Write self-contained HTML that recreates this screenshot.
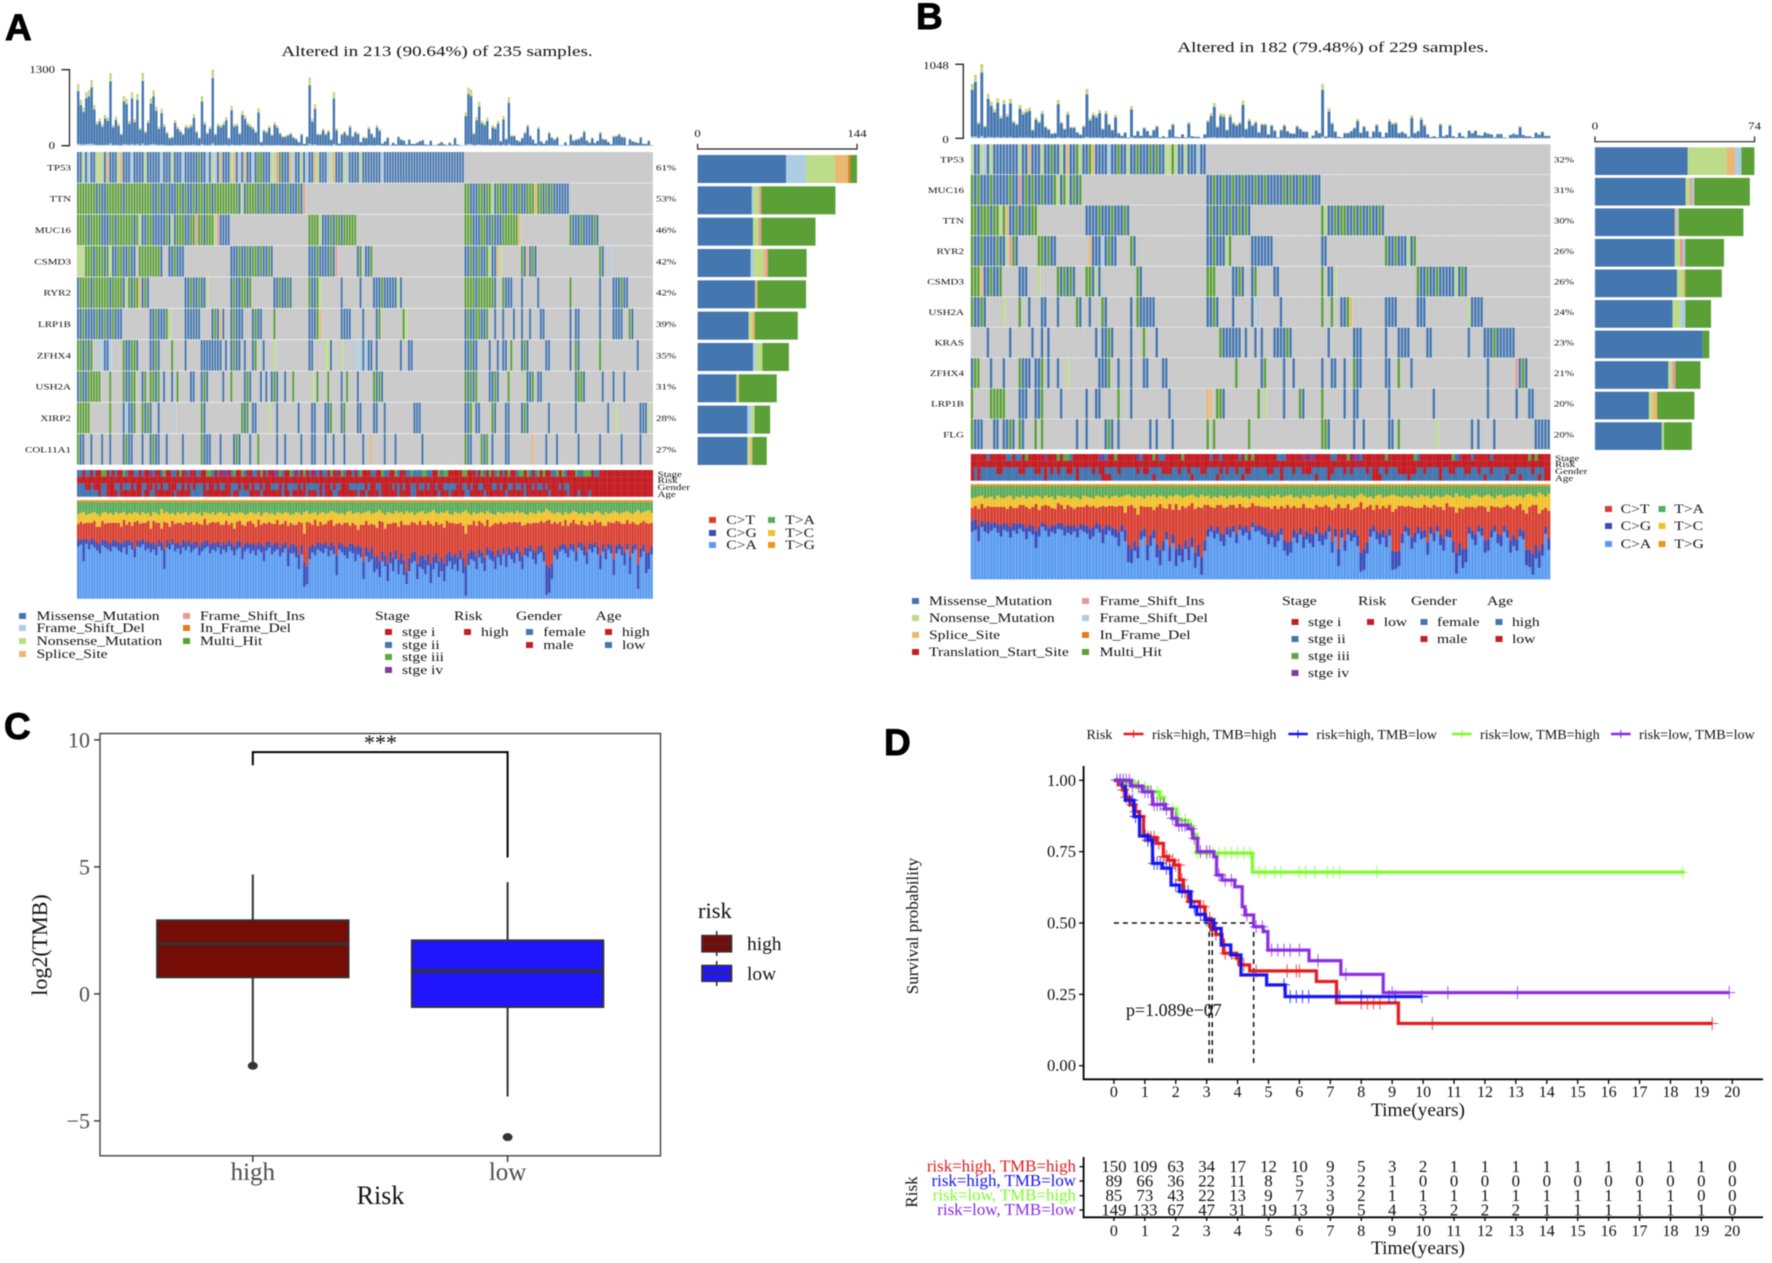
<!DOCTYPE html>
<html lang="en">
<head>
<meta charset="utf-8">
<title>Tumor mutation burden figure</title>
<style>
html,body{margin:0;padding:0;background:#fff;width:1772px;height:1263px;overflow:hidden}
svg{display:block;filter:blur(.4px)}
text{font-family:"Liberation Serif",serif;fill:#111}
.lg{font-size:12.2px}
.letter{font-family:"Liberation Sans",sans-serif;font-weight:700;font-size:37px;fill:#000;stroke:#000;stroke-width:.9px}
.ann{font-size:8.6px}
.dk{font-size:14.1px}
</style>
</head>
<body>
<svg id="figure" xmlns="http://www.w3.org/2000/svg" width="1772" height="1263" viewBox="0 0 1772 1263">
<rect width="1772" height="1263" fill="#fff"/>

<text class="letter" x="5" y="40">A</text>
<text class="letter" x="916" y="29">B</text>
<text class="letter" x="4" y="739">C</text>
<text class="letter" x="884" y="755">D</text>

<g id="panelA">
<text class="st" x="437" y="56" text-anchor="middle" font-size="14.9">Altered in 213 (90.64%) of 235 samples.</text>
<text class="st ann" x="657.5" y="477">Stage</text>
<text class="st ann" x="657.5" y="483">Risk</text>
<text class="st ann" x="657.5" y="490">Gender</text>
<text class="st ann" x="657.5" y="497">Age</text>
<g>
<g><rect x="19" y="613" width="7" height="6" fill="#4476b0"/><text class="st lg" x="36.5" y="620">Missense_Mutation</text></g>
<g><rect x="19" y="625" width="7" height="6" fill="#aecde3"/><text class="st lg" x="36.5" y="632">Frame_Shift_Del</text></g>
<g><rect x="19" y="638" width="7" height="6" fill="#bddc8a"/><text class="st lg" x="36.5" y="645">Nonsense_Mutation</text></g>
<g><rect x="19" y="651" width="7" height="6" fill="#e9b872"/><text class="st lg" x="36.5" y="658">Splice_Site</text></g>
<g><rect x="183" y="613" width="7" height="6" fill="#e89a97"/><text class="st lg" x="200" y="620">Frame_Shift_Ins</text></g>
<g><rect x="183" y="625" width="7" height="6" fill="#e07c1a"/><text class="st lg" x="200" y="632">In_Frame_Del</text></g>
<g><rect x="183" y="638" width="7" height="6" fill="#5b9f37"/><text class="st lg" x="200" y="645">Multi_Hit</text></g>
</g>
<g>
<text class="st lg" x="375" y="620">Stage</text>
<text class="st lg" x="454" y="620">Risk</text>
<text class="st lg" x="516" y="620">Gender</text>
<text class="st lg" x="595.5" y="620">Age</text>
<g><rect x="385" y="629" width="7" height="6" fill="#c41e24"/><text class="st lg" x="402" y="636">stge i</text></g>
<g><rect x="385" y="642" width="7" height="6" fill="#4476b0"/><text class="st lg" x="402" y="649">stge ii</text></g>
<g><rect x="385" y="654" width="7" height="6" fill="#5ba945"/><text class="st lg" x="402" y="661">stge iii</text></g>
<g><rect x="385" y="667" width="7" height="6" fill="#7d3f98"/><text class="st lg" x="402" y="674">stge iv</text></g>
<g><rect x="464" y="629" width="7" height="6" fill="#c41e24"/><text class="st lg" x="481" y="636">high</text></g>
<g><rect x="526" y="629" width="7" height="6" fill="#4476b0"/><text class="st lg" x="543.3" y="636">female</text></g>
<g><rect x="526" y="642" width="7" height="6" fill="#c41e24"/><text class="st lg" x="543.3" y="649">male</text></g>
<g><rect x="605" y="629" width="7" height="6" fill="#c41e24"/><text class="st lg" x="622" y="636">high</text></g>
<g><rect x="605" y="642" width="7" height="6" fill="#4476b0"/><text class="st lg" x="622" y="649">low</text></g>
</g>
<g>
<g><rect x="709" y="517" width="7" height="6" fill="#d83f31"/><text class="st lg" x="726.3" y="524">C&gt;T</text></g>
<g><rect x="709" y="530" width="7" height="6" fill="#3b4cb8"/><text class="st lg" x="726.3" y="537">C&gt;G</text></g>
<g><rect x="709" y="542" width="7" height="6" fill="#5a9bf0"/><text class="st lg" x="726.3" y="549">C&gt;A</text></g>
<g><rect x="768" y="517" width="7" height="6" fill="#5bab5b"/><text class="st lg" x="785.3" y="524">T&gt;A</text></g>
<g><rect x="768" y="530" width="7" height="6" fill="#efc22b"/><text class="st lg" x="785.3" y="537">T&gt;C</text></g>
<g><rect x="768" y="542" width="7" height="6" fill="#ec961a"/><text class="st lg" x="785.3" y="549">T&gt;G</text></g>
</g>
</g>

<g id="panelB">
<text class="st" x="1333" y="52" text-anchor="middle" font-size="14.9">Altered in 182 (79.48%) of 229 samples.</text>
<text class="st ann" x="1555" y="461">Stage</text>
<text class="st ann" x="1555" y="467">Risk</text>
<text class="st ann" x="1555" y="474">Gender</text>
<text class="st ann" x="1555" y="481">Age</text>
<g>
<g><rect x="912" y="598" width="7" height="6" fill="#4476b0"/><text class="st lg" x="929" y="605">Missense_Mutation</text></g>
<g><rect x="912" y="615" width="7" height="6" fill="#bddc8a"/><text class="st lg" x="929" y="622">Nonsense_Mutation</text></g>
<g><rect x="912" y="632" width="7" height="6" fill="#e9b872"/><text class="st lg" x="929" y="639">Splice_Site</text></g>
<g><rect x="912" y="649" width="7" height="6" fill="#c41e24"/><text class="st lg" x="929" y="656">Translation_Start_Site</text></g>
<g><rect x="1082" y="598" width="7" height="6" fill="#e89a97"/><text class="st lg" x="1099.6" y="605">Frame_Shift_Ins</text></g>
<g><rect x="1082" y="615" width="7" height="6" fill="#aecde3"/><text class="st lg" x="1099.6" y="622">Frame_Shift_Del</text></g>
<g><rect x="1082" y="632" width="7" height="6" fill="#e07c1a"/><text class="st lg" x="1099.6" y="639">In_Frame_Del</text></g>
<g><rect x="1082" y="649" width="7" height="6" fill="#5b9f37"/><text class="st lg" x="1099.6" y="656">Multi_Hit</text></g>
</g>
<g>
<text class="st lg" x="1282" y="605">Stage</text>
<text class="st lg" x="1358" y="605">Risk</text>
<text class="st lg" x="1411" y="605">Gender</text>
<text class="st lg" x="1487" y="605">Age</text>
<g><rect x="1291.5" y="619" width="7" height="6" fill="#c41e24"/><text class="st lg" x="1308" y="626">stge i</text></g>
<g><rect x="1291.5" y="636" width="7" height="6" fill="#4476b0"/><text class="st lg" x="1308" y="643">stge ii</text></g>
<g><rect x="1291.5" y="653" width="7" height="6" fill="#5ba945"/><text class="st lg" x="1308" y="660">stge iii</text></g>
<g><rect x="1291.5" y="670" width="7" height="6" fill="#7d3f98"/><text class="st lg" x="1308" y="677">stge iv</text></g>
<g><rect x="1367" y="619" width="7" height="6" fill="#c41e24"/><text class="st lg" x="1383.8" y="626">low</text></g>
<g><rect x="1420.5" y="619" width="7" height="6" fill="#4476b0"/><text class="st lg" x="1437" y="626">female</text></g>
<g><rect x="1420.5" y="636" width="7" height="6" fill="#c41e24"/><text class="st lg" x="1437" y="643">male</text></g>
<g><rect x="1495.5" y="619" width="7" height="6" fill="#4476b0"/><text class="st lg" x="1512" y="626">high</text></g>
<g><rect x="1495.5" y="636" width="7" height="6" fill="#c41e24"/><text class="st lg" x="1512" y="643">low</text></g>
</g>
<g>
<g><rect x="1605" y="506" width="7" height="6" fill="#d83f31"/><text class="st lg" x="1620.7" y="513">C&gt;T</text></g>
<g><rect x="1605" y="523" width="7" height="6" fill="#3b4cb8"/><text class="st lg" x="1620.7" y="530">C&gt;G</text></g>
<g><rect x="1605" y="541" width="7" height="6" fill="#5a9bf0"/><text class="st lg" x="1620.7" y="548">C&gt;A</text></g>
<g><rect x="1658.5" y="506" width="7" height="6" fill="#5bab5b"/><text class="st lg" x="1674.3" y="513">T&gt;A</text></g>
<g><rect x="1658.5" y="523" width="7" height="6" fill="#efc22b"/><text class="st lg" x="1674.3" y="530">T&gt;C</text></g>
<g><rect x="1658.5" y="541" width="7" height="6" fill="#ec961a"/><text class="st lg" x="1674.3" y="548">T&gt;G</text></g>
</g>
</g>

<g id="panelC">
<rect x="100" y="733.5" width="560.5" height="422.3" fill="#fff" stroke="#444" stroke-width="1.4"/>
<text transform="translate(47 945) rotate(-90)" text-anchor="middle" font-size="22">log2(TMB)</text>
<text x="380.5" y="1204" text-anchor="middle" font-size="26">Risk</text>
<text x="380.5" y="750" text-anchor="middle" font-size="22">***</text>
<text x="698" y="918" font-size="22.5">risk</text>
<g>
<line x1="716.7" x2="716.7" y1="931" y2="956" stroke="#333" stroke-width="1.6"/>
<rect x="702" y="935.6" width="29.5" height="16.2" fill="#750c06" stroke="#333" stroke-width="1.6"/>
<line x1="702" x2="731.5" y1="944" y2="944" stroke="#333" stroke-width="1.6"/>
<text x="747" y="950" font-size="19.4">high</text>
</g>
<g>
<line x1="716.7" x2="716.7" y1="961" y2="986" stroke="#333" stroke-width="1.6"/>
<rect x="702" y="965.5" width="29.5" height="15.8" fill="#2116fb" stroke="#333" stroke-width="1.6"/>
<line x1="702" x2="731.5" y1="973.5" y2="973.5" stroke="#333" stroke-width="1.6"/>
<text x="747" y="980" font-size="19.4">low</text>
</g>
</g>

<g id="panelD">
<text x="1086.5" y="739" font-size="14.1">Risk</text>
<g><line x1="1123.6" x2="1143.5" y1="734" y2="734" stroke="#e31a1c" stroke-width="2.6"/><line x1="1133.5" x2="1133.5" y1="730" y2="738" stroke="#e31a1c"/><text class="dk" x="1152" y="739">risk=high, TMB=high</text></g>
<g><line x1="1288.4" x2="1307.8" y1="734" y2="734" stroke="#1414f0" stroke-width="2.6"/><line x1="1298" x2="1298" y1="730" y2="738" stroke="#1414f0"/><text class="dk" x="1316.4" y="739">risk=high, TMB=low</text></g>
<g><line x1="1452" x2="1471.6" y1="734" y2="734" stroke="#7cfc2a" stroke-width="2.6"/><line x1="1461.8" x2="1461.8" y1="730" y2="738" stroke="#7cfc2a"/><text class="dk" x="1480" y="739">risk=low, TMB=high</text></g>
<g><line x1="1611" x2="1630.7" y1="734" y2="734" stroke="#8a2be2" stroke-width="2.6"/><line x1="1620.8" x2="1620.8" y1="730" y2="738" stroke="#8a2be2"/><text class="dk" x="1639" y="739">risk=low, TMB=low</text></g>
<text transform="translate(918 926) rotate(-90)" text-anchor="middle" font-size="17">Survival probability</text>
<text x="1418" y="1116" text-anchor="middle" font-size="19.4">Time(years)</text>
<text x="1126" y="1016" font-size="18">p=1.089e−07</text>
<text transform="translate(917 1192) rotate(-90)" text-anchor="middle" font-size="17">Risk</text>
<text x="1418" y="1254" text-anchor="middle" font-size="19.4">Time(years)</text>
</g>
</svg>

<script>
/* ===== Panel A data ===== */
const genesA=['TP53','TTN','MUC16','CSMD3','RYR2','LRP1B','ZFHX4','USH2A','XIRP2','COL11A1'];
const pctA=['61%','53%','46%','42%','42%','39%','35%','31%','28%','27%'];
const topTotalsA=[1049,781,650,912,946,1123,695,410,467,365,524,479,1237,353,496,382,211,849,798,422,912,450,884,308,1243,251,439,809,946,667,325,627,365,239,143,154,439,325,268,211,353,336,365,536,257,143,849,410,228,325,1300,211,382,353,399,490,137,678,365,382,222,593,513,399,365,325,251,638,68,279,251,342,194,399,342,228,165,171,194,222,154,125,68,211,34,165,1163,456,712,211,211,296,211,268,114,912,296,40,211,251,194,353,171,251,222,68,154,143,325,222,154,353,285,40,80,148,11,57,23,165,114,97,23,114,34,34,57,86,103,23,17,91,11,11,40,68,29,11,57,17,143,23,11,6,570,992,952,222,490,752,428,393,479,125,353,325,428,86,507,125,827,182,182,103,80,143,239,365,182,114,40,325,80,40,97,239,148,114,154,11,11,63,11,205,97,114,125,160,262,97,57,143,51,91,239,120,114,68,29,171,177,211,160,154,11,120,80,68,51,154,34,34,91,11];
const heatA=[
"@0 mmgmfmmggg msmmmgsmmm fmmmmgmmmm mfmmmgmmmf mmmmmhmmfm gfmsmmmgsm fmsmmfmhhm mmggihmmms fmmgmfmmsg mmmfgsmmmg fmmmmgmmmm mmmfmmmmmm mmmmmmmmmm mmmmmmmmmmmmmm",
"@0 hhhhhhhmhm mhhhhhhmhh hhhhhhhhmm hmmhmmmhhm hmmhmhhmhh mhhhhhhhhh mgmhhhhmhm hhmmhmmmhm mmhmi @144 hhmmmhhmhh gmhhmmhhmm hmmhhhshhm hmhmmmmmm",
"@0 hhhhmhhhhm mmhhmhhhhh hmhgmmhhmm mmmhmgmhhh mmhhihhmhh hgimmmm @86 hhhhgmmmhm hhmhhhhh @144 hhhmmmhhmmhmmmhhhhhhs @183 hmmmhmmmmhm",
"@0 ggghhhmhhh mhgmmhhmmh mm @23 hhhhhhhhm @34 mmhmmm @57 mmmhmmhmhhmhmmhm @86 mmmhmmmmhmi @104 mh @107 mmh @144 mmhmmhmmhgmmsg @165 hmsmhm @194 hm @198 f",
"@0 mhhhhmhhhh hhmhhhhmgh mhhsmhm @40 mmhmmhmmg @57 mhmmhhmh @73 mmhmmhm @86 hmmhg @98 m @105 m @110 mmmhmmm @117 mmgm @144 hhhhmhhhhhhm @158 hmmm @165 m @171 m @183 h @194 m @199 mmmhmm",
"@0 mmhmmmmhmm hmmhmmm @27 mmhmmmhg @40 mmmmmm @50 mhmsm @57 mhmmm @65 mhmm @73 h @86 mmmhs @98 mmmm @106 m @111 mh @121 hg @144 mhmmhhmmh @155 m @158 m @162 m @165 m @168 m @172 mm @183 m @185 mm @194 m @199 mmmm @205 hm",
"@0 hhmhmh @8 ffmmf @17 hmmhhm @27 mmhm @35 h @40 m @46 mmmmmmmm @55 m @57 mhmm @62 m @65 mh @69 m @73 g @86 mm @92 ggm @98 g @103 fff @106 mfmm @111 m @120 m @123 mm @144 mmhmm @153 m @156 m @158 mm @161 h @165 mhm @174 mm @183 m @185 hm @194 h @208 m",
"@0 mhmmhhhhh @12 h @17 hmmhh @24 mh @27 hhmh @32 m @35 m @37 h @42 mm @46 mhm @54 m @57 h @62 mhm @68 m @70 m @72 mhm @77 m @80 h @87 g @89 h @93 h @98 m @100 h @104 m @110 hmhm @144 hmhmh @153 mmhm @160 h @166 gm @168 mh @171 mm @185 mh @187 hm @195 m @199 m @203 m",
"@0 hhhhh @12 h @17 mfmmh @24 hmhm @30 m @36 f @46 hm @61 hmh @65 mm @71 g @74 m @82 m @87 mm @92 mmh @98 mh @104 mm @110 mm @114 m @125 mmm @144 mmh @148 mm @154 hm @159 mm @165 mhm @175 m @185 m @197 m @200 g @209 mmmg",
"@0 hmm @5 m @9 m @12 m @17 mhmm @24 m @27 mhmm @33 m @39 m @46 hmmm @53 m @58 mhm @64 m @67 h @74 m @77 m @83 m @87 mm @92 m @95 m @99 m @106 m @109 s @114 m @118 m @128 m @144 hmm @150 hmh @154 m @159 mm @169 s @174 m @178 m @186 m @194 m @202 m @209 m"
];
const rightClassesA=['m','f','g','s','i','d','h'];
const rightCountsA=[[80,18,26,12,0,2,6],[49,1.5,5,0,2,0,67],[50,0,5,0,2.5,0,49],[48,2.5,9,2,2,0,35],[52,0,0,2,0,0,44],[46,0,3,2.5,0,0,39],[50,2.5,6,0,0,0,24],[35,0,1.5,1,0,0,34],[45,3.5,3,0,0,0,14],[45,0,2.5,2,0,0,13]];
const stageA="bbrbbrbrrg grbrbrrgbr rbbrbrrpbr rbgrrbbrgr pbrrbbrrgg brbrpprbgr rgbrrbbrgr brrppgbrrg brbrgrbrpb rbbrgrprgb rrbrbgrrrb brrgbbrrgb rrbbgbbbgg bbrrgbggrr rrrggrrrbr gbrgrbgrbr grrbggrgbr bgrgrrbbgr gbrrrgbbgg grbb";
const riskA="r";
const genderA="bbbrrbrrrb brrrbbrbbb rbrrbbrrbr brbbrrrbbr brbrbbbrbr rbrbbrrbbb rbrrbrbbrb rrbbbrbrbb bbrbrbbbbb rbrrbrbbrr rbbbbbbrbr rbbrrrrbrb rbrrbbrbbr brrbrrbbbb brrbbrbrrb brrrbbrbrr bbrbbrbrrb rbbrbrrrrb rbbr";
const ageA="bbbbbbbbrb brrrrbrrrr rrrrbrrbbr rrrrrrbrrr rrbbbbbrrr rrrrrrrbrr bbbbrrrrbr rrrrrrbrrb rrrrrbrrrb rbrrrbbrrr rrrrbrrbrr rrbrrrrrrb rrrrbbrrrr rrrrbrrrbr rrrrbbrrrr rbrrrrrrrb rrrrrrbrrr rrrrrbrrrr rrbrrrbrrr brrr";
const spectrumCA_A=[53,55,38,56,50,55,52,49,46,54,52,50,48,53,52,49,47,52,45,54,50,42,53,52,55,49,51,47,50,44,53,49,30,52,50,55,48,51,45,52,49,53,47,50,52,44,48,51,53,46,50,48,52,45,50,47,53,49,44,50,52,40,48,51,46,49,44,50,47,38,49,52,45,48,50,43,47,51,33,46,46,42,30,45,12,15,40,47,44,50,48,46,51,43,49,45,24,50,47,44,41,48,46,38,45,42,20,43,37,40,27,30,22,38,33,18,36,28,40,25,35,24,15,28,36,38,20,32,30,25,34,16,30,36,22,28,18,33,38,30,35,28,40,26,3,34,40,38,30,42,36,28,44,40,38,30,42,34,45,32,44,40,36,46,38,30,44,42,48,40,35,45,47,38,4,6,20,44,40,48,50,46,42,50,48,38,52,49,44,35,50,47,52,45,30,48,40,50,46,24,46,50,44,34,50,25,46,50,10,42,48,26,30];
const spectrumCG_A=[6,5,22,5,8,6,7,8,9,6,7,7,8,6,7,8,9,6,14,5,7,9,6,6,5,8,7,9,7,10,6,8,20,7,6,5,8,6,9,7,8,6,8,7,6,9,8,7,6,9,7,8,6,9,7,8,6,7,9,8,6,12,8,6,9,7,10,7,8,15,8,6,9,8,7,9,8,6,18,9,9,11,15,9,25,18,12,8,9,7,8,9,6,10,8,9,20,7,8,9,11,8,9,14,9,10,18,9,11,12,15,14,16,10,11,18,12,14,9,15,11,15,12,13,11,10,16,12,14,15,11,20,13,10,16,14,18,12,10,13,11,14,9,15,30,12,9,10,13,8,11,14,8,9,10,13,8,11,7,13,8,9,11,7,10,13,8,9,6,9,12,8,7,10,30,25,16,8,9,6,6,8,9,6,7,10,5,7,9,12,6,8,5,8,14,7,10,6,8,16,8,6,9,13,6,18,8,6,25,9,7,20,17];
const spectrumTC_A=[10,9,12,8,9,10,9,13,11,8,12,9,10,8,11,9,14,8,10,9,12,10,8,9,11,9,8,13,9,10,8,20,9,11,13,8,9,11,9,12,10,8,9,13,8,11,9,7,12,9,10,8,9,13,11,8,9,11,16,8,9,12,11,8,9,11,13,8,9,10,12,8,11,9,8,12,10,9,13,8,11,13,9,8,22,11,9,12,8,11,9,13,10,8,9,14,11,9,12,8,11,15,9,12,18,11,12,9,14,10,12,16,11,9,14,12,11,9,12,14,9,11,14,12,10,8,12,9,14,11,8,12,16,9,11,12,15,10,9,8,12,11,9,14,24,12,10,9,12,8,11,12,9,14,11,8,12,9,10,12,9,11,8,12,9,14,11,8,12,10,9,12,8,11,12,9,11,8,12,9,11,8,12,10,9,12,11,8,10,14,9,11,8,12,9,11,14,8,10,12,9,8,11,12,9,11,8,12,15,10,9,12,14];
const spectrumTA_A=[12,11,10,13,12,11,10,12,14,11,10,12,11,13,10,12,11,10,13,11,12,10,11,13,10,12,11,14,10,11,13,7,11,10,12,11,13,10,12,11,10,13,11,10,12,11,14,10,11,12,10,13,11,10,12,11,14,10,11,12,10,11,13,12,10,11,12,10,14,11,10,12,11,13,10,11,12,10,11,13,12,10,11,13,10,9,12,11,10,13,11,10,12,11,9,10,11,12,11,13,10,9,12,11,10,12,11,10,9,12,11,10,8,11,13,10,11,12,9,11,10,12,9,11,10,13,11,10,9,12,11,10,8,11,12,10,11,9,12,13,10,11,12,10,8,11,13,10,12,11,10,12,9,11,12,13,10,11,12,10,11,10,12,9,11,10,12,13,10,11,12,9,11,10,7,9,11,12,10,11,13,10,12,11,9,10,12,11,13,10,11,12,10,9,11,13,10,12,11,9,10,12,11,10,9,11,12,10,8,11,10,9,8];
/* ===== Panel B data ===== */
const genesB=['TP53','MUC16','TTN','RYR2','CSMD3','USH2A','KRAS','ZFHX4','LRP1B','FLG'];
const pctB=['32%','31%','30%','26%','26%','24%','23%','21%','20%','20%'];
const topTotalsB=[769,897,231,1048,179,628,519,411,566,316,543,345,557,250,212,472,378,411,434,127,297,245,387,175,137,71,80,543,236,142,378,165,165,90,57,184,699,283,363,330,401,142,387,212,127,330,80,38,90,14,458,42,109,38,160,113,42,127,184,14,33,14,132,212,24,19,61,14,231,33,24,24,5,61,260,354,500,175,354,340,127,340,231,198,231,533,142,278,198,245,90,212,212,61,198,118,14,127,198,109,76,71,184,142,104,99,5,42,118,80,769,28,425,227,104,24,14,80,80,109,156,274,85,179,109,19,104,203,99,19,85,269,222,231,80,99,71,24,326,80,109,297,198,61,19,33,14,212,33,52,198,33,14,85,33,14,118,80,118,47,42,90,71,61,19,66,66,14,5,52,71,57,175,52,33,33,14,85,57,99,38,38];
const heatB=[
"@0 gmmgfmgmmm mmmmmgmmsm mmgmmhmmgm smmhgmmhsm mmmfmmhmmg mmhmmmhmhm mgghgmmgmm mfmm",
"@0 hmhmmmhmmm mmhmmimhmh mmhmmmhgmh gmhmh @74 mmhmmhmmhm mhmmmhmmhm mmmmhmhmmh mmhmmm",
"@0 hhmhhhmhhg hsmmhmmhmh h @36 mmmmhmmmhmmmhm @74 mhmmhmmhmmhmhm @110 hgmmhmhhmmhmhmmhmmhm",
"@0 hmmhmmmmhmmgihm @21 hhmhmm @37 smmmfmhmm @50 hm @74 mmhmmmgh @88 mmmmmmm @110 mm @130 hmmhmmmgmh",
"@0 hhhsmmhmmh @15 mmm @21 g @27 hmhmhm @36 hhmgm @52 hm @74 hhh @82 mmhm @88 mh @95 mm @110 h @112 mmg @140 hmmhmmhmmmmmgmhm",
"@0 hmmhm @10 g @15 h @18 m @22 mm @27 m @33 hm @37 m @41 hm @50 m @52 hm @54 mmmm @74 mmhm @82 m @88 m @90 f @97 m @110 h @113 h @116 mmhs @130 mmmm @140 mmm @156 gmmmm",
"@5 m @12 m @19 m @22 m @24 m @39 m @41 mmhm @50 m @54 h @58 m @78 hmmmmmm @86 m @89 m @91 m @95 mmmmhm @112 m @120 mmm @130 m @134 mmmm @143 mm @156 m @161 mmmhmmmmmm",
"@0 mhh @6 m @10 m @15 hm @17 mm @20 mmh @24 m @27 m @30 g @40 mmmh @46 m @50 m @54 mm @60 mm @83 h @91 mh @98 m @101 m @110 m @113 mm @117 m @120 hmm @130 mm @134 h @138 m @162 m @171 imhm",
"@0 h @6 hhhhh @15 mmm @20 mmh @28 m @36 m @39 mm @46 h @50 m @62 m @74 ss @77 hhm @90 h @92 g @98 m @103 hm @110 h @117 m @120 mm @131 m @145 m @162 m @171 m @175 mm",
"@0 hmmm @7 mm @10 mmhm @15 hm @20 h @22 h @33 m @36 m @42 mhm @46 m @56 m @58 m @63 m @74 h @76 h @87 h @110 hhm @120 m @123 m @131 mm @134 h @146 g @157 m @159 m @164 m @177 mmmmm"
];
const rightClassesB=['m','g','s','i','f','h'];
const rightCountsB=[[43,18,3.9,0,3,6],[42,2,0,1,1,25.8],[37,0,.8,0,1,30],[37,2.3,0,1.5,1,18],[38,2.8,1,0,0,17],[36,3.6,0,0,2.3,11.9],[50,0,0,0,0,3],[34,1.8,0,1.5,0,11.6],[25,1.5,2.3,0,0,17.3],[31,1,0,0,0,12.9]];
const stageB="rrrrrbrrrr rbbrbbrgrr rrrprrrgrg gbrrrrrrrr ppbrrgrrrr rrpbrrrgrb brrrrrgrrr rrrrrbrrbr rrrrbrgrgr rrrrrrbbbr rrrrprpprr rrrbbrrrgr ppbrrrrrrr grrrrrrrrg brrrrrrrrr rgbprrrbrr rrrbrrrrrr rrrrrgrg";
const riskB="r";
const genderB="rbrbbbbbrr bbbbbrrbbb rrbrbrbrbb rrbrbbbbrb rrbbbbrbbb bbrbrrbbbb rrrbbrbbrb bbrrbbbbrb rbbrbbrrbb bbbrrbbrbb brbbrrrbbb bbrrbbbrbr bbbbrbrrbb rbbbrrrrrr bbrbbbbrbb rrbbbrrbbr bbbrbbbbbr rbbbbbrbbb";
const ageB="rbrbbbbbbb bbbbbbbbbb bbbrbbbbbb bbbrbbbbbb brrrbbbbbb bbbbbbbrbb bbbbbbbbbr bbbbbbbrbb bbbbbrbbbb bbbbbbbrbb bbbbbbbbrb bbrbbbbbbb bbbbbbrrrb bbbbbbbrbb bbbbbbbrbb bbbbbbbbbb brbbbbbbrb bbrbbbbbrb";
const spectrumCA_B=[50,52,40,55,50,48,51,54,49,45,52,50,44,51,48,53,50,42,50,47,33,45,55,51,45,50,48,53,52,46,49,47,50,44,52,50,48,42,45,53,49,38,47,51,46,44,35,50,40,18,17,30,22,42,45,20,35,43,23,15,30,42,19,38,14,25,18,32,20,34,12,24,5,30,45,50,43,48,40,35,47,44,50,38,52,46,49,41,55,50,51,47,45,37,44,34,40,47,30,25,28,44,38,47,33,42,38,34,48,40,36,42,50,28,45,14,44,30,47,40,44,35,8,10,27,45,50,42,37,44,34,46,10,11,14,38,50,46,32,39,48,42,44,26,48,40,50,36,30,45,44,28,6,25,12,18,48,42,36,50,46,28,30,44,50,38,35,50,44,28,35,30,45,42,15,13,5,22,12,25,48,31];
const spectrumCG_B=[12,11,16,6,8,13,7,6,9,12,7,8,11,8,10,6,8,12,7,9,18,10,5,7,9,7,8,6,7,9,8,9,7,10,6,7,8,11,10,6,8,15,9,6,8,9,15,7,12,18,15,10,12,9,8,16,11,9,14,16,10,8,15,9,18,12,14,9,14,10,16,12,18,11,8,6,9,7,9,12,8,9,6,10,5,8,7,10,5,6,6,8,9,12,8,12,10,7,11,14,12,8,10,7,12,9,10,13,7,9,11,9,6,12,8,18,9,11,7,9,8,11,20,22,12,8,6,9,11,8,12,7,20,18,16,10,6,8,12,10,7,9,8,13,7,9,6,11,13,8,8,12,22,13,20,14,7,9,11,6,8,13,12,8,6,10,11,6,8,13,11,12,8,9,16,18,22,14,18,12,7,12];
const spectrumTC_B=[10,9,13,9,10,9,11,8,12,10,9,13,11,9,12,8,10,9,13,10,9,14,8,10,9,12,10,8,9,12,10,9,13,10,8,12,9,10,8,13,11,9,12,8,10,12,9,10,18,12,9,11,20,10,9,12,11,16,10,9,12,11,9,14,10,15,9,12,11,9,13,10,14,9,10,9,12,8,10,12,9,10,8,12,9,10,12,9,8,10,9,12,11,9,14,10,15,9,12,10,14,9,12,10,9,12,11,15,9,12,10,9,12,16,10,9,12,11,9,14,10,12,9,14,10,9,12,10,15,9,12,10,18,14,10,9,12,10,9,13,11,14,9,12,10,9,12,10,14,9,12,10,20,12,14,10,9,12,14,10,9,12,18,10,9,12,14,10,9,12,15,10,9,13,20,14,10,9,22,16,12,18];
const spectrumTA_B=[13,12,11,10,13,12,11,14,10,12,13,11,10,14,11,12,10,13,11,12,10,11,13,10,12,11,14,10,11,12,10,13,11,12,14,10,11,12,13,10,11,12,10,13,11,10,12,11,10,9,11,12,10,11,13,10,11,9,12,10,11,13,10,11,9,10,12,11,10,9,11,12,9,11,10,13,11,12,10,11,13,10,12,11,10,12,11,13,10,11,12,10,11,13,10,11,9,12,11,10,9,12,11,13,10,11,12,9,11,10,12,11,10,9,13,10,11,12,10,11,13,10,8,10,12,11,13,10,9,12,11,10,9,10,11,12,10,11,13,10,12,9,11,10,13,11,10,12,11,9,10,12,8,11,10,12,13,10,9,11,12,10,9,11,13,10,9,12,11,10,9,11,10,12,9,8,10,11,7,9,11,8];
/* ===== Panel C data ===== */
const boxCategories=['high','low'];
const boxQ1=[0.65,-0.52];
const boxMedian=[1.97,0.9];
const boxQ3=[2.9,2.11];
const whiskerHigh=[4.7,4.4];
const whiskerLow=[-2.75,-4.04];
const boxOutliers=[-2.83,-5.64];
const boxTicks=[10,5,0,-5];
const bracketValues=[9.0,9.52,5.37];
/* ===== Panel D data ===== */
const kmTicks=[0,1,2,3,4,5,6,7,8,9,10,11,12,13,14,15,16,17,18,19,20];
const survivalTicks=[1,0.75,0.5,0.25,0];
const redTimes=[0,.15,.28,.4,.52,.7,.83,.96,1.1,1.38,1.6,1.75,1.94,2.12,2.25,2.4,2.77,2.95,3.14,3.3,3.5,3.54,3.97,4.06,4.39,6.55,7.2,9.2];
const redSurv=[1,.985,.966,.94,.914,.89,.873,.808,.80,.779,.733,.72,.703,.651,.61,.575,.557,.516,.475,.46,.44,.394,.376,.353,.332,.295,.22,.148];
const redEnd=19.35;
const blueTimes=[0,.28,.37,.65,.83,1.1,1.25,1.57,1.85,2.12,2.49,2.68,2.95,3.23,3.47,3.78,4.11,4.94,5.54];
const blueSurv=[1,.98,.93,.873,.805,.79,.709,.692,.633,.61,.557,.53,.51,.481,.423,.388,.318,.283,.242];
const blueEnd=9.96;
const greenTimes=[0,.37,.74,1.1,1.48,1.62,2.03,2.4,2.55,2.68,4.48];
const greenSurv=[1,.99,.975,.96,.94,.90,.86,.84,.81,.745,.678];
const greenEnd=18.45;
const purpleTimes=[0,.55,.92,1.25,1.66,1.88,2.03,2.4,2.55,2.71,3.23,3.32,3.5,3.91,4.15,4.24,4.52,4.83,4.98,6.31,7.34,8.71];
const purpleSurv=[1,.98,.96,.915,.90,.867,.843,.83,.797,.75,.732,.668,.65,.627,.557,.528,.487,.47,.405,.368,.32,.256];
const purpleEnd=19.9;
const redCensor=[.3,.4,.6,.7,.85,1,1.1,1.2,1.3,1.45,1.6,1.7,1.8,1.9,2,2.1,2.2,2.3,2.5,2.8,2.9,3.1,3.3,3.6,3.8,4,4.2,4.6,5.6,5.9,6,8,8.2,8.4,8.6,10.3,19.35];
const blueCensor=[.2,.5,.6,.7,.8,1,1.1,1.2,1.3,1.4,1.5,1.7,1.8,2,2.2,2.4,2.6,2.8,3,3.3,5.5,5.7,5.9,6.1,6.3,7.3,8,8.9,9.1,9.96];
const greenCensor=[.1,.2,.3,.5,.6,.8,1,1.2,1.4,1.5,1.7,1.9,2.1,2.3,2.5,2.7,3,3.2,3.4,3.6,3.8,4,4.2,4.4,4.7,4.9,5.2,5.4,6,6.2,6.5,6.9,7.1,7.3,8.5,18.4];
const purpleCensor=[.1,.2,.3,.4,.5,.6,.8,1,1.1,1.2,1.3,1.4,1.5,1.6,1.7,1.9,2,2.1,2.2,2.3,2.5,2.6,2.8,3,3.1,3.4,3.6,3.8,4.3,4.6,4.8,5.1,5.3,5.5,5.7,6,6.6,7.5,9,10.8,13.05,19.9];
const medianTimes=[3.08,3.18,4.52];
const riskRowLabels=['risk=high, TMB=high','risk=high, TMB=low','risk=low, TMB=high','risk=low, TMB=low'];
const atRiskRedHigh=[150,109,63,34,17,12,10,9,5,3,2,1,1,1,1,1,1,1,1,1,0];
const atRiskBlueLow=[89,66,36,22,11,8,5,3,2,1,0,0,0,0,0,0,0,0,0,0,0];
const atRiskGreenHigh=[85,73,43,22,13,9,7,3,2,1,1,1,1,1,1,1,1,1,1,0,0];
const atRiskPurpleLow=[149,133,67,47,31,19,13,9,5,4,3,2,2,2,1,1,1,1,1,1,0];

const NS='http://www.w3.org/2000/svg';
const cellColors={m:'#4476b0',h:'#5b9f37',g:'#bddc8a',s:'#e9b872',f:'#aecde3',i:'#e89a97',d:'#e07c1a',t:'#c41e24','.':'#c9c9c9'};
const annColors={r:'#c41e24',b:'#4476b0',g:'#5ba945',p:'#7d3f98'};
const specColors=['#5a9bf0','#3b4cb8','#d83f31','#efc22b','#5bab5b','#ec961a'];
const specNames=['c-a','c-g','c-t','t-c','t-a','t-g'];
const topShares=[['f',.03],['m',.86],['g',.08],['s',.03]];
function svgEl(parent,tag,attrs,txt){
  const el=document.createElementNS(NS,tag);
  for(const k in attrs)el.setAttribute(k,attrs[k]);
  if(txt!==undefined)el.textContent=txt;
  parent.appendChild(el);
  return el;
}
function decode(str,n,fill){
  const out=new Array(n).fill(fill);let pos=0;
  const re=/@(\d+)|([a-z.])/g;let m;
  while((m=re.exec(str))){
    if(m[1]!==undefined)pos=+m[1];
    else{if(pos<n)out[pos]=m[2];pos++;}
  }
  return out;
}

function drawOnco(root,c){
  const N=c.tops.length,band=(c.x1-c.x0)/N;
  const xS=i=>c.x0+i*band;
  const yTop=v=>c.topBase-(v/c.topMax)*(c.topBase-c.topY);
  /* top bars */
  const gTop=svgEl(root,'g',{});
  
  
  c.tops.forEach((v,i)=>{
    let acc=0;
    topShares.forEach(([code,share])=>{
      const y0=yTop(acc),y1=yTop(acc+v*share);
      const el=svgEl(gTop,'rect',{x:xS(i),y:y1,width:band-.3,height:Math.max(0,y0-y1),fill:cellColors[code]});
      
      
      acc+=v*share;
    });
  });
  /* top axis */
  const axT=svgEl(root,'path',{d:`M${c.x0-7.5-8} ${c.topY}H${c.x0-7.5}V${c.topBase}H${c.x0-7.5-8}`,fill:'none',stroke:'#222','stroke-width':1.3});
  
  
  [[c.topMax,c.topY],[0,c.topBase]].forEach(([lab,y])=>{
    const t=svgEl(root,'text',{class:'st',x:c.x0-c.topLabelGap,y:y+3.5+c.topLabelDy,'text-anchor':'end','font-size':10},String(lab));
    
    
  });
  /* heat rows */
  const gHeat=svgEl(root,'g',{});
  
  
  c.genes.forEach((gene,r)=>{
    const y=c.rowY+r*c.pitch;
    const rowBg=svgEl(gHeat,'rect',{x:c.x0,y:y,width:c.x1-c.x0,height:c.rowH,fill:'#dedede'});
    
    
    const codes=decode(c.heat[r],N,'.');
    codes.forEach((code,i)=>{
      const el=svgEl(gHeat,'rect',{x:xS(i),y:y,width:code==='.'?band-.28:band-.75,height:c.rowH,fill:cellColors[code]});
      
      
    });
    const lab=svgEl(root,'text',{class:'st',x:c.labelX,y:y+c.rowH/2+3,'text-anchor':'end','font-size':8.6},gene);
    
    
    const pc=svgEl(root,'text',{class:'st',x:c.pctX,y:y+c.rowH/2+3,'font-size':8.6},c.pct[r]);
    
    
    /* right bars */
    let acc=0;
    const xR=v=>c.rx0+(v/c.rMax)*(c.rx1-c.rx0);
    c.rightCounts[r].forEach((cnt,k)=>{
      if(cnt<=0)return;
      const el=svgEl(root,'rect',{x:xR(acc),y:c.ry0+r*c.pitch,width:xR(acc+cnt)-xR(acc),height:c.rh,fill:cellColors[c.rightClasses[k]]});
      
      
      acc+=cnt;
    });
  });
  /* right axis */
  const axR=svgEl(root,'path',{d:`M${c.rx0} ${c.ra-5.3}V${c.ra}H${c.rx1}V${c.ra-5.3}`,fill:'none',stroke:'#222','stroke-width':1.2});
  
  
  [[0,c.rx0],[c.rMax,c.rx1]].forEach(([lab,x])=>{
    const t=svgEl(root,'text',{class:'st',x:x,y:c.ra-12,'text-anchor':'middle','font-size':10},String(lab));
    
    
  });
  /* annotation tracks */
  const tracks=[c.stage,c.risk,c.gender,c.age];
  const gAnn=svgEl(root,'g',{});
  
  
  const th=(c.annBottom-c.annTop)/4;
  tracks.forEach((tr,t)=>{
    const chars=tr.replace(/\s/g,'');
    for(let i=0;i<N;i++){
      const ch=chars[i]||'r';
      const el=svgEl(gAnn,'rect',{x:xS(i),y:c.annTop+t*th,width:band+.05,height:th+.05,fill:annColors[ch]});
      
      
    }
  });
  /* spectrum stack */
  const gSpec=svgEl(root,'g',{});
  
  
  const yS=p=>c.specBottom-(p/100)*(c.specBottom-c.specTop);
  for(let i=0;i<N;i++){
    const ca=c.ca[i]||45,cg=c.cg[i]||8,tc=c.tc[i]||10,ta=c.ta[i]||11,tg=2;
    const ct=Math.max(0,100-ca-cg-tc-ta-tg);
    let acc=0;
    [ca,cg,ct,tc,ta,tg].forEach((v,k)=>{
      const el=svgEl(gSpec,'rect',{x:xS(i),y:yS(acc+v),width:band-.2,height:yS(acc)-yS(acc+v)+.1,fill:specColors[k]});
      
      
      acc+=v;
    });
  }
}
drawOnco(document.getElementById('panelA'),{
  genes:genesA,pct:pctA,tops:topTotalsA,heat:heatA,rightClasses:rightClassesA,rightCounts:rightCountsA,
  stage:stageA,risk:riskA,gender:genderA,age:ageA,ca:spectrumCA_A,cg:spectrumCG_A,tc:spectrumTC_A,ta:spectrumTA_A,
  x0:77,x1:653,topBase:145.7,topY:69.7,topMax:1300,topLabelGap:22,topLabelDy:0,
  rowY:152,pitch:31.33,rowH:30.7,labelX:71,pctX:656,
  rx0:697.6,rx1:857,rMax:144,ry0:155,rh:28,ra:149,
  annTop:470,annBottom:496.7,specTop:500,specBottom:598.7
});
drawOnco(document.getElementById('panelB'),{
  genes:genesB,pct:pctB,tops:topTotalsB,heat:heatB,rightClasses:rightClassesB,rightCounts:rightCountsB,
  stage:stageB,risk:riskB,gender:genderB,age:ageB,ca:spectrumCA_B,cg:spectrumCG_B,tc:spectrumTC_B,ta:spectrumTA_B,
  x0:970.8,x1:1550.5,topBase:138.3,topY:64.3,topMax:1048,topLabelGap:22,topLabelDy:1,
  rowY:144.3,pitch:30.55,rowH:30,labelX:964,pctX:1553.9,
  rx0:1595,rx1:1754.6,rMax:74,ry0:147.3,rh:27.7,ra:141.7,
  annTop:454,annBottom:480.7,specTop:484,specBottom:579.3
});

/* ===== Panel C ===== */
(function(){
  const root=document.getElementById('panelC');
  const yC=v=>993.9-v*25.4;
  const xC=i=>252.8+i*254.8;
  const boxHalf=95.8;
  const fills=['#750c06','#2116fb'];
  boxTicks.forEach(t=>{
    const tk=svgEl(root,'line',{x1:94,x2:100,y1:yC(t),y2:yC(t),stroke:'#333','stroke-width':1.4});
    
    
    const lb=svgEl(root,'text',{x:90,y:yC(t)+7.5,'text-anchor':'end','font-size':22,style:'fill:#4d4d4d'},t<0?'\u2212'+(-t):String(t));
    
    
  });
  boxCategories.forEach((cat,i)=>{
    const x=xC(i);
    const tk=svgEl(root,'line',{x1:x,x2:x,y1:1155.8,y2:1162,stroke:'#333','stroke-width':1.4});
    
    
    const lb=svgEl(root,'text',{x:x,y:1180,'text-anchor':'middle','font-size':25,style:'fill:#4d4d4d'},cat);
    
    
    const wk=svgEl(root,'line',{x1:x,x2:x,y1:yC(whiskerHigh[i]),y2:yC(whiskerLow[i]),stroke:'#333','stroke-width':2});
    
    
    const bx=svgEl(root,'rect',{x:x-boxHalf,y:yC(boxQ3[i]),width:boxHalf*2,height:yC(boxQ1[i])-yC(boxQ3[i]),fill:fills[i],stroke:'#333','stroke-width':1.8});
    
    
    const md=svgEl(root,'line',{x1:x-boxHalf,x2:x+boxHalf,y1:yC(boxMedian[i]),y2:yC(boxMedian[i]),stroke:'#333','stroke-width':3.4});
    
    
    const ot=svgEl(root,'ellipse',{cx:x,cy:yC(boxOutliers[i]),rx:5,ry:4,fill:'#333'});
    
    
  });
  const br=svgEl(root,'path',{d:`M${xC(0)} ${yC(bracketValues[0])}V${yC(bracketValues[1])}H${xC(1)}V${yC(bracketValues[2])}`,fill:'none',stroke:'#000','stroke-width':2});
  
  
})();

/* ===== Panel D ===== */
(function(){
  const root=document.getElementById('panelD');
  const xT=t=>1113.9+t*30.92;
  const yS=s=>1065.7-s*285.4;
  const series=[
    {name:'high-high',color:'#e31a1c',t:redTimes,s:redSurv,end:redEnd,c:redCensor,n:atRiskRedHigh},
    {name:'high-low',color:'#1414f0',t:blueTimes,s:blueSurv,end:blueEnd,c:blueCensor,n:atRiskBlueLow},
    {name:'low-high',color:'#7cfc2a',t:greenTimes,s:greenSurv,end:greenEnd,c:greenCensor,n:atRiskGreenHigh},
    {name:'low-low',color:'#8a2be2',t:purpleTimes,s:purpleSurv,end:purpleEnd,c:purpleCensor,n:atRiskPurpleLow}
  ];
  const axisStyle={stroke:'#000','stroke-width':1.8,fill:'none'};
  const ax=svgEl(root,'path',Object.assign({d:'M1083.6 766V1079.3H1763'},axisStyle));
  
  
  survivalTicks.forEach(v=>{
    const tk=svgEl(root,'line',{x1:1079,x2:1083.6,y1:yS(v),y2:yS(v),stroke:'#000','stroke-width':1.3});
    
    
    const lb=svgEl(root,'text',{x:1076,y:yS(v)+5.5,'text-anchor':'end','font-size':16.6},v.toFixed(2));
    
    
  });
  kmTicks.forEach(t=>{
    const tk=svgEl(root,'line',{x1:xT(t),x2:xT(t),y1:1079.3,y2:1084,stroke:'#000','stroke-width':1.3});
    
    
    const lb=svgEl(root,'text',{x:xT(t),y:1097,'text-anchor':'middle','font-size':16},String(t));
    
    
    const tk2=svgEl(root,'line',{x1:xT(t),x2:xT(t),y1:1217.3,y2:1221,stroke:'#000','stroke-width':1.3});
    
    
    const lb2=svgEl(root,'text',{x:xT(t),y:1236,'text-anchor':'middle','font-size':16},String(t));
    
    
  });
  const h=svgEl(root,'line',{x1:xT(0),x2:xT(medianTimes[2]),y1:yS(.5),y2:yS(.5),stroke:'#111','stroke-width':1.5,'stroke-dasharray':'5 4'});
  
  
  medianTimes.forEach(t=>{
    const v=svgEl(root,'line',{x1:xT(t),x2:xT(t),y1:yS(.5),y2:yS(0),stroke:'#111','stroke-width':1.5,'stroke-dasharray':'5 4'});
    
    
  });
  const surv=(sr,t)=>{let s=sr.s[0];sr.t.forEach((tt,i)=>{if(t>=tt)s=sr.s[i];});return s;};
  series.forEach(sr=>{
    let d=`M${xT(sr.t[0])} ${yS(sr.s[0])}`;
    for(let i=1;i<sr.t.length;i++)d+=`H${xT(sr.t[i])}V${yS(sr.s[i])}`;
    d+=`H${xT(sr.end)}`;
    const halo=svgEl(root,'path',{d,fill:'none',stroke:sr.color,'stroke-width':4.2,opacity:.3});
    
    
    const p=svgEl(root,'path',{d,fill:'none',stroke:sr.color,'stroke-width':2.8});
    
    
    sr.c.forEach(t=>{
      const x=xT(t),y=yS(surv(sr,t));
      const m=svgEl(root,'path',{d:`M${x-6} ${y}H${x+6}M${x} ${y-6.5}V${y+6.5}`,stroke:sr.color,'stroke-width':1,fill:'none',opacity:.8});
      
      
    });
  });
  /* risk table */
  const ax2=svgEl(root,'path',Object.assign({d:'M1083.6 1157V1217.3H1763'},axisStyle));
  
  
  const rowY=[1166.7,1181,1195.7,1210];
  series.forEach((sr,r)=>{
    const tk=svgEl(root,'line',{x1:1079.5,x2:1083.6,y1:rowY[r],y2:rowY[r],stroke:'#000','stroke-width':1.3});
    
    
    const lb=svgEl(root,'text',{x:1076,y:rowY[r]+5,'text-anchor':'end','font-size':16.9,style:'fill:'+sr.color},riskRowLabels[r]);
    
    
    sr.n.forEach((v,i)=>{
      const t=svgEl(root,'text',{x:xT(kmTicks[i]),y:rowY[r]+5.5,'text-anchor':'middle','font-size':16.8},String(v));
      
      
    });
  });
})();

/* horizontal stretch applied to the A and B panel labels */
document.querySelectorAll('text.st').forEach(t=>{
  t.setAttribute('textLength',(t.getComputedTextLength()*1.28).toFixed(1));
  t.setAttribute('lengthAdjust','spacingAndGlyphs');
});
</script>
</body>
</html>
